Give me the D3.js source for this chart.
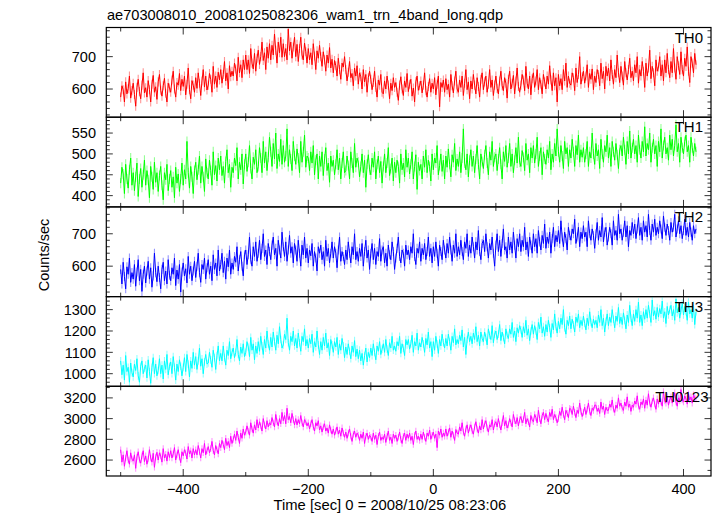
<!DOCTYPE html>
<html><head><meta charset="utf-8">
<script src="https://cdn.jsdelivr.net/npm/d3@7"></script>
<style>body{margin:0;background:#fff}svg{display:block;font-family:"Liberation Sans",Arial,Helvetica,sans-serif}</style>
</head><body><script>
// time bins: start and step (sec); one row below = 20 s
const tStart = -500, tStep = 2;
const th0 = [
575,610,598,560,622,585,601,640,572,595,
618,583,547,605,630,592,570,612,650,588,
604,575,626,598,560,615,642,590,607,568,
622,645,596,578,610,633,587,560,618,603,
590,628,655,600,575,620,612,648,595,630,
608,640,582,615,665,598,570,626,612,590,
635,602,650,618,580,625,660,606,640,597,
612,648,630,590,670,615,640,605,652,628,
660,618,645,685,625,650,600,672,638,655,
640,680,662,625,698,650,675,635,690,660,
705,660,690,648,725,680,662,710,655,695,
720,676,700,745,688,712,660,730,695,740,
690,735,705,770,720,680,745,712,760,698,
740,700,725,690,785,718,745,695,730,760,
700,738,685,725,760,705,690,742,715,680,
725,690,712,675,740,702,660,718,695,735,
700,670,715,690,655,705,680,728,665,692,
650,688,672,640,695,660,630,680,668,700,
660,625,652,685,635,648,610,665,640,672,
615,650,638,600,660,622,645,590,635,655,
630,598,620,655,605,575,628,612,645,590,
585,625,600,640,612,570,618,595,635,605,
620,590,565,612,638,600,580,625,605,648,
592,615,630,578,603,560,622,640,596,610,
625,588,612,650,595,575,608,632,590,618,
600,635,582,615,640,545,620,605,628,590,
632,598,615,575,645,610,588,625,655,600,
590,628,605,640,580,618,660,598,622,570,
625,600,645,612,585,635,608,575,630,650,
598,622,640,590,615,660,605,628,580,612,
640,602,585,625,655,610,595,635,618,572,
630,655,600,618,642,585,625,665,608,590,
612,645,628,595,670,618,600,640,582,632,
650,605,625,660,598,635,615,585,645,622,
600,640,615,672,628,595,650,610,635,560,
645,610,632,598,660,625,680,605,640,618,
612,650,635,595,665,620,645,700,615,638,
655,618,640,675,605,648,630,662,598,640,
620,660,645,610,680,632,655,600,670,640,
665,625,690,645,615,660,635,705,650,620,
670,640,612,685,650,628,660,695,635,655,
625,675,650,700,618,660,640,685,655,605,
680,640,665,720,632,670,650,610,690,655,
668,700,640,675,625,690,650,710,660,635,
685,650,725,665,630,700,672,645,715,660,
640,695,670,730,655,620,700,680,650,710,
675];
const th1 = [
430,468,452,405,475,440,418,462,490,425,
455,412,445,478,398,440,465,420,450,485,
425,460,438,395,470,445,415,480,432,455,
410,448,470,425,390,455,438,475,412,440,
460,420,445,395,468,430,452,410,440,478,
425,462,440,530,455,418,470,445,405,460,
480,438,462,495,430,470,445,410,488,455,
440,485,460,425,505,450,472,435,490,462,
495,448,470,430,482,510,455,475,420,468,
455,490,472,515,440,480,462,500,428,475,
500,458,480,520,465,440,492,475,510,455,
470,515,490,455,530,478,505,460,492,540,
505,470,525,488,550,465,500,482,535,475,
520,480,495,560,470,510,488,460,530,495,
475,512,490,455,530,480,505,545,468,495,
490,460,505,478,520,450,485,500,440,495,
470,505,448,488,515,460,478,432,495,470,
485,450,475,510,462,490,440,478,505,455,
460,495,472,440,505,478,455,525,468,490,
480,445,470,500,455,485,420,475,498,462,
450,490,468,505,440,475,495,455,482,430,
470,500,455,478,515,448,465,490,435,480,
455,485,470,430,500,462,478,445,510,468,
490,452,475,505,440,470,498,415,480,460,
475,440,495,468,510,455,485,470,435,500,
462,490,478,520,450,472,500,458,485,440,
495,468,512,475,445,498,480,525,460,488,
470,505,455,490,560,478,462,500,445,485,
510,470,495,455,488,520,475,440,500,482,
465,498,520,478,450,505,485,530,470,492,
500,460,488,515,475,440,505,482,520,468,
490,525,470,500,455,485,515,478,540,480,
470,508,492,460,525,485,500,455,515,490,
520,478,500,540,470,495,515,450,505,488,
475,510,490,530,462,500,480,525,495,560,
505,480,520,495,465,530,500,515,470,510,
490,535,505,470,520,498,545,480,510,492,
515,480,500,530,470,505,490,550,500,475,
525,495,510,465,535,500,480,520,505,545,
490,515,470,530,505,485,525,498,465,510,
520,495,540,510,475,530,500,555,490,515,
535,500,520,480,545,510,490,530,505,565,
495,525,510,550,480,515,535,500,520,470,
530,505,560,490,520,540,500,515,485,545,
510,535,495,520,570,505,525,480,540,515,
500,530,545,505,520,480,540,515,495,525,
505];
const th2 = [
590,545,612,568,530,598,575,625,550,580,
560,605,538,582,620,555,590,522,575,600,
548,585,615,560,595,535,570,640,580,552,
600,565,530,590,612,555,585,545,620,572,
555,595,575,625,540,588,560,605,520,582,
610,570,592,548,630,575,600,555,585,615,
565,600,640,580,550,605,590,625,560,595,
620,575,600,555,635,590,610,570,650,585,
605,640,580,615,560,625,598,650,575,610,
590,630,612,660,585,620,645,600,570,635,
650,605,635,690,620,600,660,630,675,615,
640,680,620,655,700,630,650,605,670,645,
620,665,690,635,655,600,680,650,625,705,
660,630,675,615,650,695,640,660,610,670,
650,615,680,640,600,665,635,690,625,655,
610,650,632,670,600,645,625,585,660,640,
665,620,645,600,680,630,655,610,640,675,
625,660,640,595,650,690,615,645,630,605,
650,620,675,640,610,660,635,700,620,645,
615,655,630,670,600,645,680,625,650,590,
640,670,620,655,605,645,630,685,615,650,
660,610,640,600,665,635,620,675,645,590,
625,655,690,630,610,650,640,600,665,635,
650,620,660,640,700,630,605,655,640,675,
615,655,635,670,620,645,690,630,655,610,
660,630,675,640,600,665,645,620,680,650,
625,670,640,690,650,615,665,640,700,630,
660,635,680,645,620,675,655,700,630,665,
640,690,660,625,675,650,710,645,620,670,
680,645,700,660,625,670,650,690,640,600,
665,700,645,680,630,670,715,650,660,625,
690,650,675,640,705,665,625,685,660,700,
645,680,660,720,650,675,630,690,665,640,
700,660,685,640,710,675,650,695,670,730,
655,690,670,705,640,685,720,660,695,675,
710,670,740,690,660,705,685,650,720,695,
680,715,700,745,670,690,720,660,705,685,
725,690,705,660,740,700,680,715,695,655,
700,735,680,710,690,750,675,705,720,665,
690,720,700,665,740,695,710,680,760,700,
715,680,705,740,690,725,660,710,695,735,
700,730,685,715,750,695,720,680,740,705,
725,690,760,710,680,730,705,745,695,720,
700,740,715,685,755,720,695,730,710,680,
735,705,720,760,690,715,740,700,725,685,
710,745,695,720,690,735,705,680,725,700,
715];
const th3 = [
1060,995,1040,970,1085,1010,1030,960,1050,1005,
985,1045,1015,1070,990,960,1035,1060,1000,1025,
1040,980,1065,1010,955,1030,1075,1000,1045,990,
1015,1070,1000,1040,975,1060,1020,1090,995,1035,
1055,1000,1080,1030,970,1045,1010,1065,1035,990,
1030,1075,1010,1090,1045,985,1060,1025,1100,1040,
1080,1020,1060,1120,1035,1070,1000,1055,1090,1045,
1050,1100,1065,1030,1110,1075,1020,1085,1130,1060,
1095,1060,1130,1075,1040,1110,1085,1150,1070,1100,
1120,1075,1100,1160,1090,1060,1125,1095,1140,1080,
1100,1150,1125,1080,1170,1110,1140,1065,1130,1095,
1150,1105,1175,1130,1090,1160,1120,1200,1140,1110,
1170,1125,1195,1150,1110,1180,1140,1220,1160,1120,
1135,1185,1160,1260,1145,1110,1175,1150,1200,1130,
1165,1120,1190,1145,1105,1175,1150,1210,1130,1160,
1120,1165,1140,1185,1100,1150,1125,1200,1135,1090,
1150,1110,1170,1130,1190,1120,1145,1085,1160,1135,
1100,1150,1125,1170,1090,1140,1110,1165,1130,1075,
1125,1090,1140,1105,1070,1130,1100,1155,1080,1115,
1070,1110,1060,1095,1040,1085,1120,1055,1100,1075,
1120,1085,1140,1100,1065,1130,1105,1150,1090,1115,
1140,1100,1160,1115,1085,1145,1120,1175,1110,1130,
1105,1150,1130,1175,1095,1140,1120,1085,1160,1135,
1160,1115,1140,1180,1100,1150,1130,1190,1110,1145,
1125,1170,1140,1100,1165,1135,1195,1120,1150,1080,
1150,1110,1175,1140,1095,1160,1130,1185,1145,1120,
1165,1130,1185,1150,1110,1175,1145,1210,1135,1160,
1140,1180,1155,1205,1125,1170,1090,1160,1195,1150,
1175,1140,1190,1160,1220,1150,1180,1130,1195,1165,
1150,1195,1170,1135,1210,1180,1160,1225,1145,1185,
1200,1160,1185,1230,1155,1195,1170,1140,1210,1180,
1165,1210,1185,1240,1170,1200,1150,1215,1190,1225,
1205,1170,1220,1190,1250,1180,1210,1155,1200,1230,
1185,1225,1200,1160,1240,1210,1265,1190,1220,1175,
1230,1195,1250,1215,1170,1235,1205,1280,1220,1190,
1245,1210,1260,1230,1300,1215,1185,1250,1225,1270,
1210,1255,1230,1195,1265,1240,1280,1215,1250,1225,
1270,1235,1205,1260,1225,1290,1240,1215,1255,1230,
1250,1215,1275,1240,1300,1225,1260,1195,1245,1280,
1225,1265,1240,1300,1255,1215,1270,1245,1310,1235,
1265,1230,1285,1250,1210,1275,1240,1320,1260,1225,
1280,1245,1300,1260,1335,1240,1275,1225,1290,1255,
1300,1260,1320,1280,1240,1345,1270,1295,1255,1310,
1265,1305,1280,1340,1260,1290,1235,1315,1275,1300,
1320,1270,1300,1250,1350,1285,1310,1260,1295,1330,
1275,1315,1290,1250,1335,1280,1300,1260,1320,1230,
1290];
const th0123 = [
2700,2580,2650,2540,2620,2690,2600,2560,2670,2610,
2590,2650,2520,2630,2680,2600,2570,2640,2690,2585,
2640,2560,2610,2700,2620,2580,2665,2530,2630,2675,
2600,2670,2640,2580,2710,2620,2655,2590,2680,2625,
2690,2620,2660,2720,2600,2650,2700,2630,2575,2680,
2640,2700,2670,2610,2730,2660,2690,2620,2710,2650,
2700,2650,2740,2680,2620,2710,2670,2760,2650,2690,
2730,2670,2710,2780,2690,2650,2740,2700,2660,2760,
2720,2790,2750,2700,2810,2740,2780,2720,2830,2760,
2800,2850,2790,2880,2820,2760,2860,2810,2900,2840,
2870,2930,2880,2840,2960,2900,2860,2940,2890,2990,
2910,2970,2930,2880,3000,2940,2900,2980,2920,2960,
2940,3010,2960,2920,3040,2970,2930,3000,2950,3060,
2980,3030,2950,3100,2990,3020,2960,3050,2990,2940,
3000,2940,2990,2950,3030,2960,2920,2990,2970,2930,
2960,2900,2950,2990,2920,2880,2960,2930,2980,2890,
2930,2870,2920,2950,2880,2910,2860,2940,2890,2850,
2900,2840,2880,2920,2850,2890,2830,2910,2860,2820,
2870,2810,2860,2900,2830,2780,2850,2880,2820,2860,
2840,2790,2850,2810,2870,2760,2830,2860,2800,2840,
2820,2780,2860,2800,2840,2750,2830,2870,2790,2820,
2800,2850,2770,2830,2880,2790,2820,2760,2850,2810,
2840,2780,2820,2870,2800,2760,2830,2860,2790,2850,
2810,2860,2790,2830,2750,2840,2880,2800,2830,2790,
2850,2800,2870,2820,2780,2860,2830,2890,2800,2840,
2870,2810,2850,2720,2880,2840,2900,2820,2860,2830,
2900,2830,2870,2910,2820,2880,2840,2790,2895,2860,
2850,2920,2880,2960,2870,2830,2900,2940,2860,2910,
2940,2880,2850,2920,2970,2900,2860,2930,2890,2990,
2900,2950,2980,2910,2870,2940,2920,2990,2890,2950,
2970,2920,3000,2940,2890,2960,3030,2930,2980,2910,
2940,3000,2960,2920,3040,2980,2950,3010,2930,2990,
3020,2960,2990,3060,2950,3000,2970,2920,3030,2985,
2970,3040,3010,2960,3080,3000,2950,3030,3060,2990,
3050,3000,2970,3060,3020,3090,2990,3040,3010,2960,
3000,3070,3030,3110,3040,2990,3080,3050,3010,3100,
3090,3040,3120,3060,3010,3080,3050,3150,3070,3020,
3060,3110,3040,3090,3150,3070,3030,3100,3080,3130,
3130,3070,3100,3050,3160,3090,3120,3040,3110,3080,
3080,3140,3110,3180,3090,3060,3130,3100,3200,3120,
3150,3100,3080,3160,3120,3210,3110,3140,3070,3130,
3110,3170,3140,3220,3120,3090,3160,3135,3190,3100,
3180,3130,3240,3150,3110,3170,3200,3140,3090,3190,
3140,3200,3160,3120,3260,3170,3150,3210,3130,3180,
3210,3150,3190,3250,3160,3120,3200,3170,3280,3180,
3160,3220,3190,3140,3240,3180,3210,3150,3230,3200,
3190];
const bandNames = ["TH0","TH1","TH2","TH3","TH0123"];
const bandValues = [th0, th1, th2, th3, th0123];
const bandErrors = [14, 12, 14, 18, 32];
const yDomains = [[513,790],[373,588],[506,783],[941,1361],[2446,3312]];
const yMajorStep = [100, 50, 100, 100, 200];
const yMinorStep = [20, 10, 20, 20, 100];
const xDomain = [-523, 444];
const xMajorTicks = [-400,-200,0,200,400];
const xMinorTicks = [-500,-300,-100,100,300];
const titleText = "ae703008010_20081025082306_wam1_trn_4band_long.qdp";
const yLabelText = "Counts/sec";
const xLabelText = "Time [sec] 0 = 2008/10/25 08:23:06";

// ---- layout / style ----
const W = 717, H = 516;
const colors = ["#ff0000","#00ff00","#0000ff","#00ffff","#ff00ff"];
const pLeft = 106.3, pRight = 711, pTop = 27.5, pBottom = 476;
const ph = (pBottom - pTop) / 5;
const fs = 14.5;

const svg = d3.select("body").append("svg").attr("width", W).attr("height", H);
const x = d3.scaleLinear().domain(xDomain).range([pLeft, pRight]);

svg.append("text").attr("x", 107).attr("y", 19.5).attr("font-size", 14.6).text(titleText);

bandNames.forEach((name, k) => {
  const y0 = pTop + k * ph, y1 = y0 + ph;
  const y = d3.scaleLinear().domain(yDomains[k]).range([y1, y0]);
  const g = svg.append("g");
  const cid = "clip" + k;
  svg.append("clipPath").attr("id", cid).append("rect")
    .attr("x", pLeft).attr("y", y0).attr("width", pRight - pLeft).attr("height", ph);
  const dg = g.append("g").attr("clip-path", `url(#${cid})`);
  const vals = bandValues[k];
  const pts = vals.map((v, i) => ({t: tStart + i * tStep, v}));
  const e = bandErrors[k];
  dg.append("g").selectAll("line").data(pts).join("line")
    .attr("x1", d => x(d.t)).attr("x2", d => x(d.t))
    .attr("y1", d => y(d.v - e)).attr("y2", d => y(d.v + e))
    .attr("stroke", colors[k]).attr("stroke-opacity", 0.42).attr("stroke-width", 1.1);
  dg.append("path").datum(pts)
    .attr("d", d3.line().x(d => x(d.t)).y(d => y(d.v)))
    .attr("fill", "none").attr("stroke", colors[k]).attr("stroke-width", 1);

  // ticks
  const [lo, hi] = yDomains[k];
  const major = d3.range(Math.ceil(lo / yMajorStep[k]) * yMajorStep[k], hi, yMajorStep[k]);
  const minor = d3.range(Math.ceil(lo / yMinorStep[k]) * yMinorStep[k], hi, yMinorStep[k])
    .filter(v => !major.some(m => Math.abs(m - v) < 1e-6));
  const tg = g.append("g").attr("stroke", "#333").attr("stroke-width", 1);
  const yTick = (v, len) => {
    tg.append("line").attr("x1", pLeft).attr("x2", pLeft + len).attr("y1", y(v)).attr("y2", y(v));
    tg.append("line").attr("x1", pRight).attr("x2", pRight - len).attr("y1", y(v)).attr("y2", y(v));
  };
  major.forEach(v => yTick(v, 6.5));
  minor.forEach(v => yTick(v, 3.5));
  const xTick = (t, len) => {
    tg.append("line").attr("x1", x(t)).attr("x2", x(t)).attr("y1", y0).attr("y2", y0 + len);
    tg.append("line").attr("x1", x(t)).attr("x2", x(t)).attr("y1", y1).attr("y2", y1 - len);
  };
  xMajorTicks.forEach(t => xTick(t, 7));
  xMinorTicks.forEach(t => xTick(t, 4));
  g.append("g").selectAll("text").data(major).join("text")
    .attr("x", 96).attr("y", v => y(v)).attr("dy", "0.36em")
    .attr("text-anchor", "end").attr("font-size", fs).text(v => v);

  g.append("rect").attr("x", pLeft).attr("y", y0).attr("width", pRight - pLeft).attr("height", ph)
    .attr("fill", "none").attr("stroke", "#000").attr("stroke-width", 1.2);

  g.append("text").attr("x", k === 4 ? 708.5 : 703).attr("y", y0 + 15.2)
    .attr("text-anchor", "end").attr("font-size", 15).text(name);
});

svg.append("g").selectAll("text").data(xMajorTicks).join("text")
  .attr("x", d => x(d)).attr("y", 494).attr("text-anchor", "middle")
  .attr("font-size", fs).text(d => d < 0 ? "\u2212" + Math.abs(d) : d);

svg.append("text").attr("x", 273.5).attr("y", 509.5).attr("font-size", 14.8).text(xLabelText);
svg.append("text").attr("transform", "translate(49,255) rotate(-90)")
  .attr("text-anchor", "middle").attr("font-size", fs).text(yLabelText);
</script></body></html>
